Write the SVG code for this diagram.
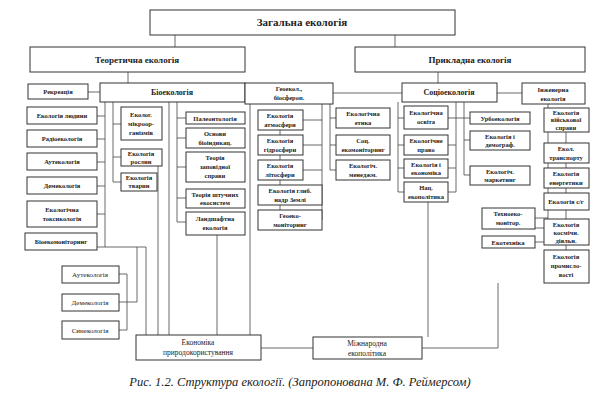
<svg xmlns="http://www.w3.org/2000/svg" width="600" height="411" viewBox="0 0 600 411">
<style>
rect{fill:#fff;stroke:#333;stroke-width:1}
text{font-family:"Liberation Serif",serif;font-size:6.5px;text-anchor:middle;fill:#222;font-weight:bold}
.b{font-size:9px}.t{font-size:11px}
#conn path{fill:none;stroke:#444;stroke-width:0.8}
.cap{font-size:12.5px;font-style:italic;font-weight:normal}
.n{font-weight:normal;font-size:7px}
</style>
<g id="conn">
<path d="M175 35V47M395 35V47"/>
<path d="M128 72V83M438 72V83M88 92H100M333 93H402M497 93H522"/>
<path d="M105 102V247H97M97 116H105M97 139H105M97 162H105M97 186H105M97 214H105M105 247H146V335"/>
<path d="M113 102V182H121M113 124H121M113 157H121M158 166V335"/>
<path d="M169 102V335M177 102V222H186M177 118H186M177 138H186M177 167H186M177 198H186M217 235V335"/>
<path d="M250 104V335M280 130V135M280 155V160M280 180V185M280 205V210M322 104V220M303 120H322M303 145H322M303 170H322"/>
<path d="M330 104V170H336M330 118H336M330 145H336"/>
<path d="M398 102V192H404M398 118H404M398 145H404M398 168H404M456 102V192H448M448 118H456M448 145H456M448 168H456M464 102V175M456 118H470M464 140H470M464 175H470"/>
<path d="M428 202V337"/>
<path d="M548 104V228H535M535 218H548M535 242H548"/>
<path d="M566 132V143M566 163V168M566 188V193M566 210V219M566 245V250"/>
<path d="M127 274H119M127 302H119M127 330H119M127 274V330M127 302H137V247"/>
<path d="M261 348H313M422 348H498V283"/>
</g>
<g id="n0"><rect x="150" y="10" width="305" height="25"/><text class="t" x="302" y="26">Загальна екологія</text></g>
<g id="n1"><rect x="30" y="47" width="215" height="25"/><text class="b" x="137" y="63">Теоретична екологія</text></g>
<g id="n2"><rect x="355" y="47" width="230" height="25"/><text class="b" x="470" y="63">Прикладна екологія</text></g>
<g id="n3"><rect x="28" y="84" width="60" height="15"/><text x="58" y="94">Рекреація</text></g>
<g id="n4"><rect x="100" y="83" width="145" height="19"/><text x="172" y="95" style="font-size:8px">Біоекологія</text></g>
<g id="n5"><rect x="245" y="83" width="88" height="21"/><text x="289" y="91">Геоекол.,</text><text x="289" y="100">біосфероп.</text></g>
<g id="n6"><rect x="402" y="83" width="95" height="19"/><text x="449" y="95" style="font-size:8px">Соціоекологія</text></g>
<g id="n7"><rect x="522" y="83" width="63" height="21"/><text x="553" y="92">Інженерна</text><text x="553" y="101">екологія</text></g>
<g id="n8"><rect x="27" y="107" width="70" height="17"/><text x="62" y="118">Екологія людини</text></g>
<g id="n9"><rect x="27" y="130" width="70" height="17"/><text x="62" y="141">Радіоекологія</text></g>
<g id="n10"><rect x="27" y="153" width="70" height="17"/><text x="62" y="164">Аутекологія</text></g>
<g id="n11"><rect x="27" y="177" width="70" height="17"/><text x="62" y="188">Демекологія</text></g>
<g id="n12"><rect x="27" y="201" width="70" height="26"/><text x="62" y="212">Екологічна</text><text x="62" y="221">токсикологія</text></g>
<g id="n13"><rect x="25" y="233" width="72" height="17"/><text x="61" y="244">Біоекомоніторинг</text></g>
<g id="n14"><rect x="121" y="107" width="41" height="33"/><text x="141" y="117">Еколог.</text><text x="141" y="126">мікроор-</text><text x="141" y="135">ганізмів</text></g>
<g id="n15"><rect x="121" y="149" width="41" height="17"/><text x="141" y="156">Екологія</text><text x="141" y="164">рослин</text></g>
<g id="n16"><rect x="121" y="173" width="36" height="18"/><text x="139" y="180">Екологія</text><text x="139" y="188">тварин</text></g>
<g id="n17"><rect x="186" y="112" width="59" height="12"/><text x="215" y="121">Палеонтологія</text></g>
<g id="n18"><rect x="186" y="128" width="59" height="20"/><text x="215" y="136">Основи</text><text x="215" y="145">біоіндикац.</text></g>
<g id="n19"><rect x="186" y="152" width="59" height="30"/><text x="215" y="160">Теорія</text><text x="215" y="169">заповідної</text><text x="215" y="178">справи</text></g>
<g id="n20"><rect x="186" y="189" width="59" height="19"/><text x="215" y="197">Теорія штучних</text><text x="215" y="205">екосистем</text></g>
<g id="n21"><rect x="186" y="212" width="59" height="23"/><text x="215" y="221">Ландшафтна</text><text x="215" y="230">екологія</text></g>
<g id="n22"><rect x="258" y="110" width="45" height="20"/><text x="280" y="118">Екологія</text><text x="280" y="127">атмосфери</text></g>
<g id="n23"><rect x="258" y="135" width="45" height="20"/><text x="280" y="143">Екологія</text><text x="280" y="152">гідросфери</text></g>
<g id="n24"><rect x="258" y="160" width="45" height="20"/><text x="280" y="168">Екологія</text><text x="280" y="177">літосфери</text></g>
<g id="n25"><rect x="258" y="185" width="64" height="20"/><text x="290" y="193">Екологія глиб.</text><text x="290" y="202">надр Землі</text></g>
<g id="n26"><rect x="258" y="210" width="64" height="20"/><text x="290" y="218">Геоеко-</text><text x="290" y="227">моніторинг</text></g>
<g id="n27"><rect x="336" y="108" width="54" height="20"/><text x="363" y="116">Екологічна</text><text x="363" y="125">етика</text></g>
<g id="n28"><rect x="336" y="135" width="54" height="20"/><text x="363" y="143">Соц.</text><text x="363" y="152">екомоніторинг</text></g>
<g id="n29"><rect x="336" y="160" width="54" height="20"/><text x="363" y="168">Екологіч.</text><text x="363" y="177">менеджм.</text></g>
<g id="n30"><rect x="404" y="106" width="44" height="23"/><text x="426" y="115">Екологічна</text><text x="426" y="124">освіта</text></g>
<g id="n31"><rect x="404" y="135" width="44" height="20"/><text x="426" y="143">Екологічне</text><text x="426" y="152">право</text></g>
<g id="n32"><rect x="404" y="159" width="44" height="19"/><text x="426" y="167">Екологія і</text><text x="426" y="175">економіка</text></g>
<g id="n33"><rect x="404" y="182" width="44" height="20"/><text x="426" y="190">Нац.</text><text x="426" y="199">екополітика</text></g>
<g id="n34"><rect x="470" y="112" width="60" height="12"/><text x="500" y="121">Урбоекологія</text></g>
<g id="n35"><rect x="470" y="131" width="60" height="19"/><text x="500" y="139">Екологія і</text><text x="500" y="147">демограф.</text></g>
<g id="n36"><rect x="470" y="166" width="60" height="19"/><text x="500" y="174">Екологіч.</text><text x="500" y="182">маркетинг</text></g>
<g id="n37"><rect x="482" y="208" width="53" height="21"/><text x="508" y="216">Техноеко-</text><text x="508" y="225">монітор.</text></g>
<g id="n38"><rect x="482" y="236" width="53" height="12"/><text x="508" y="245">Екотехніка</text></g>
<g id="n39"><rect x="544" y="108" width="45" height="24"/><text x="566" y="115">Екологія</text><text x="566" y="122">військової</text><text x="566" y="130">справи</text></g>
<g id="n40"><rect x="544" y="143" width="45" height="20"/><text x="566" y="151">Екол.</text><text x="566" y="160">транспорту</text></g>
<g id="n41"><rect x="544" y="168" width="45" height="20"/><text x="566" y="176">Екологія</text><text x="566" y="185">енергетики</text></g>
<g id="n42"><rect x="544" y="193" width="45" height="17"/><text x="566" y="204">Екологія с/г</text></g>
<g id="n43"><rect x="544" y="219" width="45" height="26"/><text x="566" y="227">Екологія</text><text x="566" y="235">космічн.</text><text x="566" y="243">діяльн.</text></g>
<g id="n44"><rect x="544" y="250" width="45" height="33"/><text x="566" y="259">Екологія</text><text x="566" y="268">промисло-</text><text x="566" y="277">вості</text></g>
<g id="n45"><rect x="62" y="266" width="57" height="17"/><text class="n" x="90" y="277">Аутекологія</text></g>
<g id="n46"><rect x="62" y="294" width="57" height="17"/><text class="n" x="90" y="305">Демекологія</text></g>
<g id="n47"><rect x="62" y="321" width="57" height="18"/><text class="n" x="90" y="333">Синекологія</text></g>
<g id="n48"><rect x="136" y="335" width="125" height="25"/><text x="198" y="345" style="font-size:7.5px;font-weight:normal">Економіка</text><text x="198" y="355" style="font-size:7.5px;font-weight:normal">природокористування</text></g>
<g id="n49"><rect x="313" y="337" width="109" height="22"/><text x="367" y="346" style="font-size:7.5px;font-weight:normal">Міжнародна</text><text x="367" y="356" style="font-size:7.5px;font-weight:normal">екополітика</text></g>
<text class="cap" x="300" y="386">Рис. 1.2. Структура екології. (Запропонована М. Ф. Реймерсом)</text>
</svg>
